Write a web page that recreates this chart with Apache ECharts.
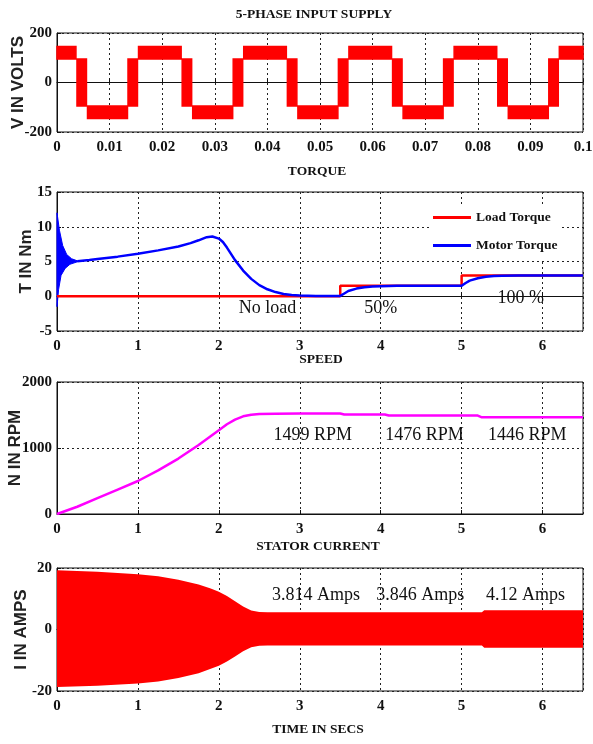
<!DOCTYPE html>
<html><head><meta charset="utf-8">
<script src="https://cdn.jsdelivr.net/npm/echarts/dist/echarts.min.js"></script>
<style>html,body{margin:0;padding:0;background:#fff}#c{width:593px;height:744px}</style>
</head><body><div id="c"></div>
<script>
// ---------- data ----------
const panelTitles = ['5-PHASE INPUT SUPPLY', 'TORQUE', 'SPEED', 'STATOR CURRENT', 'TIME IN SECS'];
const yNames = ['V IN VOLTS', 'T IN Nm', 'N IN RPM', 'I IN AMPS'];

// 5-phase supply: upper / lower envelope of the PWM trace [t (s), V]
const supplyUpper = [
  [0,145],
  [0.0036,145],[0.0036,95],[0.0056,95],[0.0056,-95],[0.0135,-95],[0.0135,95],[0.0155,95],[0.0155,145],
  [0.0236,145],[0.0236,95],[0.0256,95],[0.0256,-95],[0.0335,-95],[0.0335,95],[0.0355,95],[0.0355,145],
  [0.0436,145],[0.0436,95],[0.0456,95],[0.0456,-95],[0.0535,-95],[0.0535,95],[0.0555,95],[0.0555,145],
  [0.0636,145],[0.0636,95],[0.0656,95],[0.0656,-95],[0.0735,-95],[0.0735,95],[0.0755,95],[0.0755,145],
  [0.0836,145],[0.0836,95],[0.0856,95],[0.0856,-95],[0.0935,-95],[0.0935,95],[0.0955,95],[0.0955,145],
  [0.1,145]
];
const supplyLower = [
  [0,95],
  [0.0038,95],[0.0038,-95],[0.0058,-95],[0.0058,-145],[0.0134,-145],[0.0134,-95],[0.0153,-95],[0.0153,95],
  [0.0238,95],[0.0238,-95],[0.0258,-95],[0.0258,-145],[0.0334,-145],[0.0334,-95],[0.0353,-95],[0.0353,95],
  [0.0438,95],[0.0438,-95],[0.0458,-95],[0.0458,-145],[0.0534,-145],[0.0534,-95],[0.0553,-95],[0.0553,95],
  [0.0638,95],[0.0638,-95],[0.0658,-95],[0.0658,-145],[0.0734,-145],[0.0734,-95],[0.0753,-95],[0.0753,95],
  [0.0838,95],[0.0838,-95],[0.0858,-95],[0.0858,-145],[0.0934,-145],[0.0934,-95],[0.0953,-95],[0.0953,95],
  [0.1,95]
];

// torque [t (s), Nm]
const loadTorque = [[0,0],[3.5,0],[3.5,1.5],[5,1.5],[5,3],[6.5,3]];
const motorTorque = [
  [0.25,5.05],[0.4,5.2],[0.5,5.35],[0.75,5.7],[1,6.1],[1.25,6.6],[1.5,7.15],[1.65,7.65],[1.75,8.05],
  [1.85,8.5],[1.92,8.6],[2.0,8.3],[2.05,7.8],[2.1,7.0],[2.2,5.2],[2.3,3.7],[2.4,2.5],[2.5,1.6],
  [2.6,1.0],[2.7,0.6],[2.8,0.33],[2.9,0.18],[3.0,0.1],[3.2,0.05],[3.5,0.05],[3.55,0.4],[3.6,0.75],
  [3.7,1.1],[3.8,1.3],[3.9,1.4],[4.0,1.45],[4.2,1.5],[5.0,1.5],[5.05,1.9],[5.1,2.25],[5.2,2.6],
  [5.3,2.8],[5.4,2.9],[5.5,2.95],[5.7,3.0],[6.5,3.0]
];
const motorStartUpper = [[0,12],[0.03,9.5],[0.07,7.3],[0.12,6.0],[0.18,5.4],[0.25,5.1]];
const motorStartLower = [[0,-1.5],[0.02,1.0],[0.05,3.0],[0.1,4.0],[0.16,4.6],[0.25,4.95]];
const torqueNotes = ['No load', '50%', '100 %'];

// speed [t (s), rpm]
const speed = [
  [0,0],[0.25,110],[0.5,240],[0.75,370],[1,500],[1.25,660],[1.5,840],[1.75,1045],[2,1270],
  [2.1,1360],[2.2,1430],[2.3,1480],[2.4,1505],[2.5,1515],[2.7,1520],[3.0,1522],[3.5,1522],
  [3.55,1507],[4.05,1507],[4.1,1492],[5.2,1492],[5.25,1465],[6.5,1465]
];
const speedNotes = ['1499 RPM', '1476 RPM', '1446 RPM'];

// stator current envelope [t (s), A]
const currentUpper = [
  [0,19.3],[0.5,18.8],[1,18.0],[1.25,17.3],[1.5,16.2],[1.75,14.6],[1.9,13.3],[2.0,12.3],[2.1,10.9],
  [2.2,9.2],[2.3,7.5],[2.4,6.2],[2.5,5.7],[2.6,5.6],[5.25,5.6],[5.28,6.3],[6.5,6.3]
];
const currentLower = [
  [0,-18.7],[0.5,-18.3],[1,-17.6],[1.25,-16.9],[1.5,-15.8],[1.75,-14.2],[1.9,-12.8],[2.0,-11.8],[2.1,-10.4],
  [2.2,-8.8],[2.3,-7.1],[2.4,-5.8],[2.5,-5.3],[2.6,-5.2],[5.25,-5.2],[5.28,-5.9],[6.5,-5.9]
];
const currentNotes = ['3.814 Amps', '3.846 Amps', '4.12 Amps'];

// ---------- chart ----------
const SERIF = "'Liberation Serif','Times New Roman',serif";
const SANS = "'Liberation Sans',Arial,sans-serif";
const chart = echarts.init(document.getElementById('c'), null, {renderer: 'canvas'});

const grids = [
  {left:57, right:10, top:33, height:99},
  {left:57, right:10, top:192, height:139},
  {left:57, right:10, top:382, height:132},
  {left:57, right:10, top:568, height:123}
].map(g => Object.assign({show:true, borderColor:'#111', borderWidth:1, backgroundColor:'#fff',
  containLabel:false, outerBoundsMode:'none'}, g));

const gridLine = {show:true, lineStyle:{color:'#222', type:[2,3], width:1}};
const tickLabel = {fontFamily:SERIF, fontWeight:'bold', fontSize:15, color:'#111'};

function xAx(i, max, interval, fmt) {
  return {type:'value', gridIndex:i, min:0, max:max, interval:interval,
    axisLine:{show:true, lineStyle:{color:'#111'}},
    axisTick:{show:true, inside:true, length:4, lineStyle:{color:'#111'}},
    axisLabel:Object.assign({margin:8, showMaxLabel: max === 0.1, formatter:fmt}, tickLabel),
    splitLine:gridLine};
}
function yAx(i, min, max, interval, gap) {
  return {type:'value', gridIndex:i, min:min, max:max, interval:interval,
    name:yNames[i], nameLocation:'middle', nameGap:gap, nameMoveOverlap:false,
    nameTextStyle:{fontFamily:SANS, fontWeight:'bold', fontSize:17, color:'#222'},
    axisLine:{show:true, lineStyle:{color:'#111'}},
    axisTick:{show:true, inside:true, length:4, lineStyle:{color:'#111'}},
    axisLabel:Object.assign({margin:5, formatter:v => String(v)}, tickLabel),
    splitLine:gridLine};
}

function band(upper, lower, color, idx, stroke) {
  return {type:'custom', xAxisIndex:idx, yAxisIndex:idx, silent:true, z:2,
    data:[upper[0]],
    renderItem:(params, api) => {
      const pts = upper.map(p => api.coord(p)).concat(lower.slice().reverse().map(p => api.coord(p)));
      return {type:'polygon', shape:{points:pts},
        style:{fill:color, stroke:stroke ? color : null, lineWidth:stroke || 0, lineJoin:'miter'}};
    }};
}
function notes(texts, anchors, idx, size) {
  return {type:'custom', xAxisIndex:idx, yAxisIndex:idx, silent:true, z:5,
    data:anchors,
    renderItem:(params, api) => {
      const p = api.coord([api.value(0), api.value(1)]);
      return {type:'text', x:p[0], y:p[1],
        style:{text:texts[params.dataIndex], fill:'#111', align:'center', verticalAlign:'middle',
          font:'normal ' + size + 'px ' + SERIF}};
    }};
}

const titleY = [15, 172, 360, 547, 730];
const titleX = [314, 317, 321, 318, 318];

const option = {
  animation:false,
  backgroundColor:'#fff',
  grid:grids,
  xAxis:[
    xAx(0, 0.1, 0.01, v => String(+v.toFixed(2))),
    xAx(1, 6.5, 1, v => String(v)), xAx(2, 6.5, 1, v => String(v)), xAx(3, 6.5, 1, v => String(v))
  ],
  yAxis:[
    yAx(0, -200, 200, 200, 30),
    yAx(1, -5, 15, 5, 22),
    yAx(2, 0, 2000, 1000, 33),
    yAx(3, -20, 20, 20, 27)
  ],
  legend:{
    data:['Load Torque','Motor Torque'], orient:'vertical', left:430, top:204,
    padding:[6,4,6,3], icon:'rect', itemWidth:38, itemHeight:3, itemGap:13, selectedMode:false,
    backgroundColor:'#fff',
    textStyle:{fontFamily:SERIF, fontWeight:'bold', fontSize:13.5, color:'#111', lineHeight:15}
  },
  graphic: panelTitles.map((t, i) => ({
    type:'text', x:titleX[i], y:titleY[i], z:100,
    style:{text:t, fill:'#111', align:'center', verticalAlign:'middle',
      font:'bold 13.5px ' + SERIF}
  })),
  series:[
    band(supplyUpper, supplyLower, '#ff0000', 0, 1.5),
    {name:'Load Torque', type:'line', xAxisIndex:1, yAxisIndex:1, data:loadTorque,
      symbol:'none', z:3, lineStyle:{color:'#ff0000', width:2.5}, itemStyle:{color:'#ff0000'}},
    band(motorStartUpper, motorStartLower, '#0000ff', 1, 1),
    {name:'Motor Torque', type:'line', xAxisIndex:1, yAxisIndex:1, data:motorTorque,
      symbol:'none', z:4, lineStyle:{color:'#0000ff', width:2.5}, itemStyle:{color:'#0000ff'}},
    notes(torqueNotes, [[2.6,-1.7],[4.0,-1.7],[5.73,-0.3]], 1, 18),
    {type:'line', xAxisIndex:2, yAxisIndex:2, data:speed, symbol:'none',
      lineStyle:{color:'#ff00ff', width:2.5}},
    notes(speedNotes, [[3.16,1197],[4.54,1197],[5.81,1197]], 2, 18),
    band(currentUpper, currentLower, '#ff0000', 3),
    notes(currentNotes, [[3.2,11.2],[4.49,11.2],[5.79,11.2]], 3, 18)
  ]
};
chart.setOption(option);
</script>
</body></html>
